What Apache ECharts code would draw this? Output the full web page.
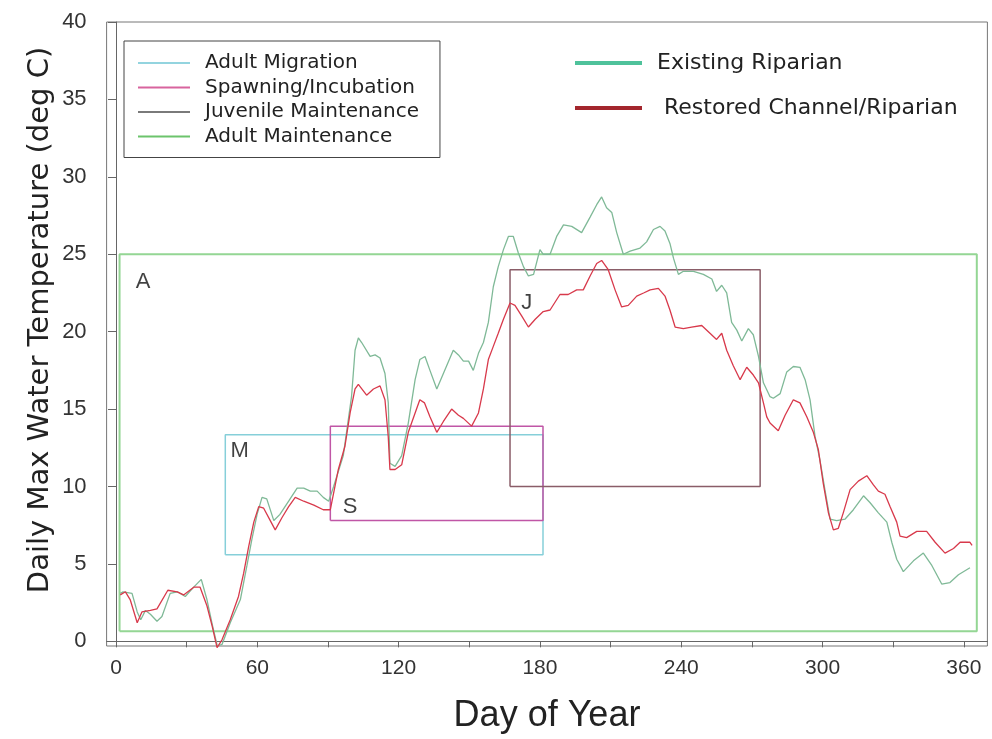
<!DOCTYPE html>
<html>
<head>
<meta charset="utf-8">
<title>Daily Max Water Temperature</title>
<script src="https://cdn.jsdelivr.net/npm/echarts@6/dist/echarts.min.js"></script>
<style>
  html, body { margin: 0; padding: 0; background: #fff; }
  #chart { width: 992px; height: 739px; }
</style>
</head>
<body>
<div id="chart"></div>
<script>
  // temperatures (day of year, deg C)
  const existingDays = [1.8, 3, 6.8, 9, 10.5, 12.5, 14.6, 17.4, 19.5, 23, 26, 29.4, 33, 36.2, 38.6, 41, 43, 45, 48.5, 52.8,
    55.6, 57.7, 59.9, 62, 64, 67, 69.6, 73.3, 76.9, 79.7, 82.5, 85.4, 88, 90.3, 92.4, 96.5, 100, 101.5, 102.9, 104.3,
    107.9, 110, 112.1, 114.2, 115.6, 116.3, 118.5, 121.3, 124.1, 127, 129, 131.2, 133.3, 136.2, 139, 143.2, 145.4, 147.5, 149.7, 151.7,
    153.9, 156, 158.1, 160.2, 162.3, 164.5, 166.6, 168.7, 170.8, 173, 175.1, 177.3, 180, 181.4, 184.3, 187.1, 190, 193.5, 197.7, 201.3,
    204.1, 206.2, 208.3, 210.5, 212.6, 215.4, 218.3, 222.5, 225.3, 228.2, 231, 233.1, 235.2, 236.7, 238.8, 240.9, 245.2, 249.4, 253, 255,
    257.2, 259.3, 261.4, 263.6, 265.7, 268.5, 270.6, 272.8, 274.9, 277.7, 279.1, 282, 284.8, 287.6, 290.4, 292.6, 294.7, 296.8, 298.9, 301,
    303.2, 306, 309.6, 313.1, 317.4, 320.2, 323.7, 327.3, 329.4, 331.5, 334.3, 338.6, 342.8, 346.4, 350.6, 354.1, 357.7, 362.6];
  const existingTemp = [3.1, 3.2, 3.1, 1.9, 1.4, 2.0, 1.75, 1.3, 1.6, 3.1, 3.2, 2.9, 3.5, 4.0, 2.7, 1.0, -0.3, -0.2, 1.2, 2.7,
    4.9, 6.6, 8.2, 9.3, 9.2, 7.8, 8.2, 9.05, 9.9, 9.9, 9.7, 9.7, 9.3, 9.05, 10.0, 12.0, 15.8, 18.8, 19.6, 19.3,
    18.4, 18.5, 18.3, 17.3, 15.4, 11.5, 11.3, 12.0, 14.1, 16.9, 18.2, 18.4, 17.5, 16.3, 17.3, 18.8, 18.5, 18.1, 18.1, 17.5,
    18.6, 19.3, 20.6, 22.9, 24.2, 25.3, 26.15, 26.15, 25.1, 24.2, 23.6, 23.7, 25.3, 25.0, 25.0, 26.15, 26.9, 26.8, 26.4, 27.4,
    28.2, 28.7, 28.0, 27.7, 26.4, 25.0, 25.2, 25.4, 25.8, 26.6, 26.8, 26.5, 25.7, 24.75, 23.7, 23.9, 23.9, 23.7, 23.4, 22.6,
    23.0, 22.5, 20.6, 20.1, 19.4, 20.2, 19.8, 18.4, 16.7, 15.8, 15.7, 16.0, 17.4, 17.75, 17.7, 16.9, 15.6, 13.25, 11.7, 9.8,
    7.9, 7.8, 7.9, 8.5, 9.4, 8.95, 8.3, 7.7, 6.4, 5.3, 4.5, 5.2, 5.7, 4.9, 3.7, 3.8, 4.3, 4.75];

  const restoredDays = [1.8, 4, 6, 9, 11, 14.6, 17.4, 22, 26, 28.7, 33, 35.7, 38.6, 40.8, 42.9, 45, 48.5, 52, 54.2, 56.3,
    58.5, 60.6, 62.7, 65.5, 67.6, 70.5, 73.3, 76.1, 79.7, 84, 88, 91, 94.4, 97.2, 99.4, 101.5, 102.9, 106.4, 109.3, 112.1,
    114.2, 115.6, 116.3, 118.5, 121.3, 124.1, 127, 129, 131, 133.3, 136.2, 139, 142.5, 145.4, 147.5, 151, 153.9, 156, 158.1, 160.2,
    162.3, 164.5, 167.3, 169.4, 172.3, 175.1, 178, 181.4, 184.3, 188.5, 192, 195.6, 198.4, 201.3, 204.1, 206.2, 209, 211.9, 214.7, 217.5,
    221.1, 224, 226.8, 230.3, 233.1, 235.2, 237.4, 240.9, 244.4, 248.7, 252.2, 255, 257.2, 259.3, 262.1, 265, 267.8, 270.6, 272.8, 274.9,
    276.3, 277.7, 281.2, 284.1, 287.6, 290.4, 293.3, 296.1, 298.2, 300.3, 302.5, 304.6, 306.7, 308.8, 311.7, 315.2, 318.8, 321.6, 323.7, 326.5,
    328.7, 331.5, 332.9, 335.7, 340, 344.2, 347.8, 352, 355.6, 358.4, 362.6, 363.5];
  const restoredTemp = [3.0, 3.2, 2.7, 1.2, 1.9, 2.0, 2.1, 3.3, 3.2, 3.0, 3.5, 3.5, 2.3, 1.0, -0.4, 0.1, 1.4, 2.9, 4.4, 6.1,
    7.7, 8.7, 8.6, 7.8, 7.2, 8.0, 8.7, 9.3, 9.05, 8.8, 8.5, 8.5, 11.1, 12.6, 14.75, 16.3, 16.6, 15.9, 16.3, 16.5,
    15.6, 13.2, 11.1, 11.1, 11.4, 13.5, 14.75, 15.6, 15.4, 14.5, 13.5, 14.2, 15.0, 14.6, 14.4, 13.9, 14.75, 16.3, 18.2, 19.05,
    19.9, 20.8, 21.85, 21.7, 21.0, 20.3, 20.8, 21.3, 21.4, 22.4, 22.4, 22.7, 22.7, 23.6, 24.4, 24.6, 24.0, 22.7, 21.6, 21.7,
    22.3, 22.5, 22.7, 22.8, 22.3, 21.4, 20.3, 20.2, 20.3, 20.4, 19.9, 19.5, 19.9, 18.8, 17.8, 16.9, 17.7, 17.2, 16.7, 15.4,
    14.5, 14.1, 13.6, 14.6, 15.6, 15.4, 14.5, 13.5, 12.4, 10.2, 8.3, 7.2, 7.3, 8.3, 9.8, 10.35, 10.7, 10.1, 9.7, 9.5,
    8.7, 7.7, 6.8, 6.7, 7.1, 7.1, 6.4, 5.7, 6.0, 6.4, 6.4, 6.2];

  // habitat criteria windows
  const boxNames = ['Adult Migration', 'Spawning/Incubation', 'Juvenile Maintenance', 'Adult Maintenance'];
  const boxTags = ['M', 'S', 'J', 'A'];
  const boxDayFrom = [46.4, 91, 167.3, 1.5];
  const boxDayTo = [181.3, 181.3, 273.5, 365.5];
  const boxTempLow = [5.6, 7.8, 10, 0.65];
  const boxTempHigh = [13.35, 13.9, 24, 25];
  const tagDay = [52.5, 99.4, 174.4, 11.5];
  const tagTemp = [12.3, 8.7, 21.85, 23.2];

  const xTicks = [0, 30, 60, 90, 120, 150, 180, 210, 240, 270, 300, 330, 360];
  const xLabels = [0, 60, 120, 180, 240, 300, 360];
  const yTicks = [0, 5, 10, 15, 20, 25, 30, 35, 40];

  const boxColors = ['#86cfd9', '#c056a6', '#8a5d68', '#94d694'];
  const boxSwatch = ['#93d4df', '#d8649e', '#7a7a7a', '#6cc46c'];

  let myChart = echarts.init(document.getElementById('chart'));

  const boxSeries = boxNames.map(function (name, i) {
    const x0 = boxDayFrom[i], x1 = boxDayTo[i], y0 = boxTempLow[i], y1 = boxTempHigh[i];
    return {
      name: name,
      type: 'line',
      symbol: 'none',
      silent: true,
      z: 2,
      lineStyle: { color: boxColors[i], width: i === 3 ? 2 : 1.5 },
      itemStyle: { color: boxColors[i] },
      data: [[x0, y0], [x1, y0], [x1, y1], [x0, y1], [x0, y0]]
    };
  });

  let option = {
    backgroundColor: '#fff',
    animation: false,
    grid: { left: 106.6, right: 4.6, top: 22, bottom: 92.4, show: true, borderColor: '#777', borderWidth: 1 },
    xAxis: {
      type: 'value',
      min: -4,
      max: 370,
      name: 'Day of Year',
      nameLocation: 'middle',
      nameGap: 52,
      nameTextStyle: { fontFamily: 'Liberation Sans', fontSize: 36, color: '#222' },
      axisLine: { show: true, lineStyle: { color: '#666' } },
      axisTick: { show: true, length: 6, customValues: xTicks, lineStyle: { color: '#666' } },
      axisLabel: { customValues: xLabels, margin: 12, fontFamily: 'Liberation Sans', fontSize: 21, color: '#333' },
      splitLine: { show: false }
    },
    yAxis: {
      type: 'value',
      min: -0.3,
      max: 40,
      axisLine: { show: true, lineStyle: { color: '#666' } },
      axisTick: { show: true, length: 8, customValues: yTicks, lineStyle: { color: '#666' } },
      axisLabel: { customValues: yTicks, margin: 20, fontFamily: 'Liberation Sans', fontSize: 22, color: '#333' },
      splitLine: { show: false }
    },
    legend: [
      {
        data: boxNames.map(function (n, i) { return { name: n, itemStyle: { color: boxSwatch[i] } }; }),
        orient: 'vertical',
        left: 124,
        top: 41,
        icon: 'rect',
        itemWidth: 52,
        itemHeight: 2,
        itemGap: 4.5,
        padding: [12, 21, 11, 14],
        borderColor: '#444',
        borderWidth: 1,
        selectedMode: false,
        textStyle: { fontFamily: 'DejaVu Sans', fontSize: 20, color: '#222', padding: [0, 0, 0, 10] }
      },
      {
        data: [
          { name: 'Existing Riparian', itemStyle: { color: '#4fc29b' } },
          { name: 'Restored Channel/Riparian', itemStyle: { color: '#a3262d' } }
        ],
        orient: 'vertical',
        left: 575,
        top: 52,
        icon: 'rect',
        itemWidth: 67,
        itemHeight: 4,
        itemGap: 23,
        padding: 0,
        selectedMode: false,
        formatter: function (n) { return n === 'Restored Channel/Riparian' ? ' ' + n : n; },
        textStyle: { fontFamily: 'DejaVu Sans', fontSize: 22, color: '#222', padding: [0, 0, 0, 10] }
      }
    ],
    graphic: [
      {
        type: 'text',
        x: 40,
        y: 320,
        rotation: Math.PI / 2,
        style: {
          text: 'Daily Max Water Temperature (deg C)',
          font: '29px "DejaVu Sans"',
          fill: '#222',
          align: 'center',
          verticalAlign: 'middle'
        }
      }
    ],
    series: boxSeries.concat([
      {
        name: 'tags',
        type: 'scatter',
        symbolSize: 0,
        silent: true,
        z: 4,
        data: boxTags.map(function (t, i) { return [tagDay[i], tagTemp[i], t]; }),
        label: {
          show: true,
          position: 'inside',
          formatter: function (p) { return p.value[2]; },
          fontFamily: 'Liberation Sans',
          fontSize: 22,
          color: '#111'
        }
      },
      {
        name: 'Existing Riparian',
        type: 'line',
        symbol: 'none',
        z: 3,
        clip: false,
        lineStyle: { color: '#7fb997', width: 1.3 },
        itemStyle: { color: '#7fb997' },
        data: existingDays.map(function (d, i) { return [d, existingTemp[i]]; })
      },
      {
        name: 'Restored Channel/Riparian',
        type: 'line',
        symbol: 'none',
        z: 3,
        clip: false,
        lineStyle: { color: '#d8394b', width: 1.3 },
        itemStyle: { color: '#d8394b' },
        data: restoredDays.map(function (d, i) { return [d, restoredTemp[i]]; })
      }
    ])
  };

  myChart.setOption(option);

  window.addEventListener('resize', function () {
    myChart.resize();
  });
</script>
</body>
</html>
